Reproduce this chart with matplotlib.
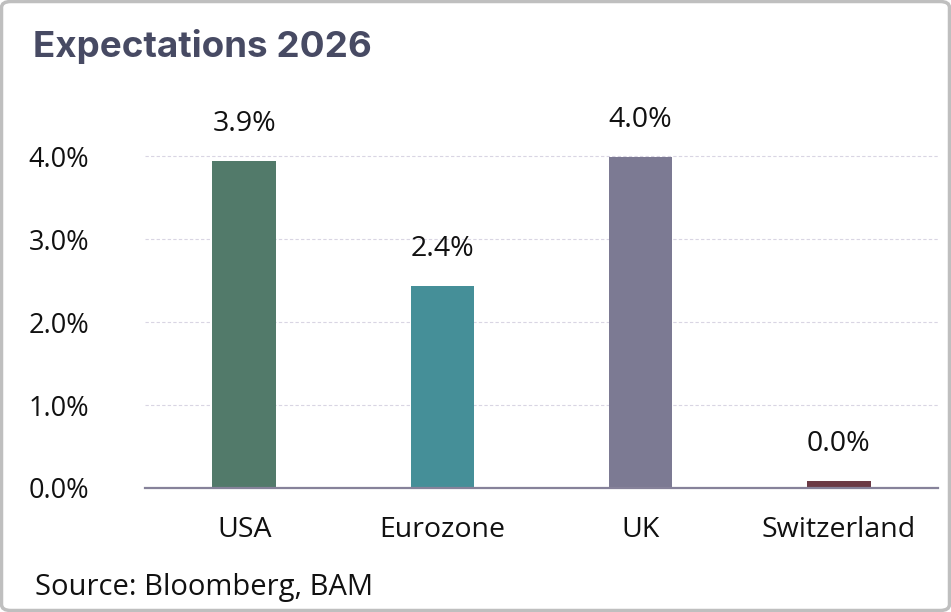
import matplotlib
matplotlib.use("Agg")
import matplotlib.pyplot as plt
from matplotlib.patches import FancyBboxPatch
from matplotlib.ticker import FuncFormatter

categories = ["USA", "Eurozone", "UK", "Switzerland"]
values = [3.94, 2.44, 3.99, 0.09]
value_labels = ["3.9%", "2.4%", "4.0%", "0.0%"]
colors = ["#527a6a", "#458f98", "#7c7a93", "#6b3a45"]
yticks = [0.0, 1.0, 2.0, 3.0, 4.0]

plt.rcParams['font.family'] = ['Open Sans', 'DejaVu Sans']

fig = plt.figure(figsize=(9.51, 6.12), dpi=100)
W, H = 951, 612
ax = fig.add_axes([145 / W, 1 - 488 / H, (938 - 145) / W, (488 - 115) / H])

x = list(range(len(categories)))
ax.bar(x, values, width=0.32, color=colors, zorder=3)
for xi, v, lab in zip(x, values, value_labels):
    ax.annotate(lab, (xi, v), xytext=(0, 21.6), textcoords="offset points",
                ha="center", va="baseline", fontsize=20.5, color="#111111")

ax.set_xlim(-0.5, 3.5)
ax.set_ylim(0, 4.5)
ax.set_yticks(yticks)
ax.yaxis.set_major_formatter(FuncFormatter(lambda v, p: f"{v:.1f}%"))
ax.set_xticks(x)
ax.set_xticklabels(categories)
ax.tick_params(axis="both", length=0, labelsize=19.5, labelcolor="#111111")
ax.tick_params(axis="x", pad=20, labelsize=20.5)
ax.tick_params(axis="y", pad=84)
for lab in ax.get_yticklabels():
    lab.set_horizontalalignment("left")
for s in ["top", "right", "left"]:
    ax.spines[s].set_visible(False)
ax.spines["bottom"].set_color("#86829a")
ax.spines["bottom"].set_linewidth(1.6)
ax.spines["bottom"].set_zorder(4)
ax.grid(axis="y", color="#d9d5e3", linestyle=(0, (3, 2)), linewidth=0.8, zorder=0)
ax.set_axisbelow(True)

fig.text(33 / W, 1 - 47 / H, "Expectations 2026", fontsize=26.5, fontweight="bold",
         color="#474a63", family=["Inter", "DejaVu Sans"], va="center", ha="left")
fig.text(35 / W, 1 - 587 / H, "Source: Bloomberg, BAM", fontsize=21,
         color="#111111", va="center", ha="left")

border = FancyBboxPatch((1.5 / W, 1.5 / H), (W - 3) / W, (H - 3) / H,
                        boxstyle="round,pad=0,rounding_size=0.01",
                        transform=fig.transFigure, fill=False,
                        edgecolor="#bfbfbf", linewidth=2.5)
fig.patches.append(border)

fig.savefig("out.png", dpi=100)
